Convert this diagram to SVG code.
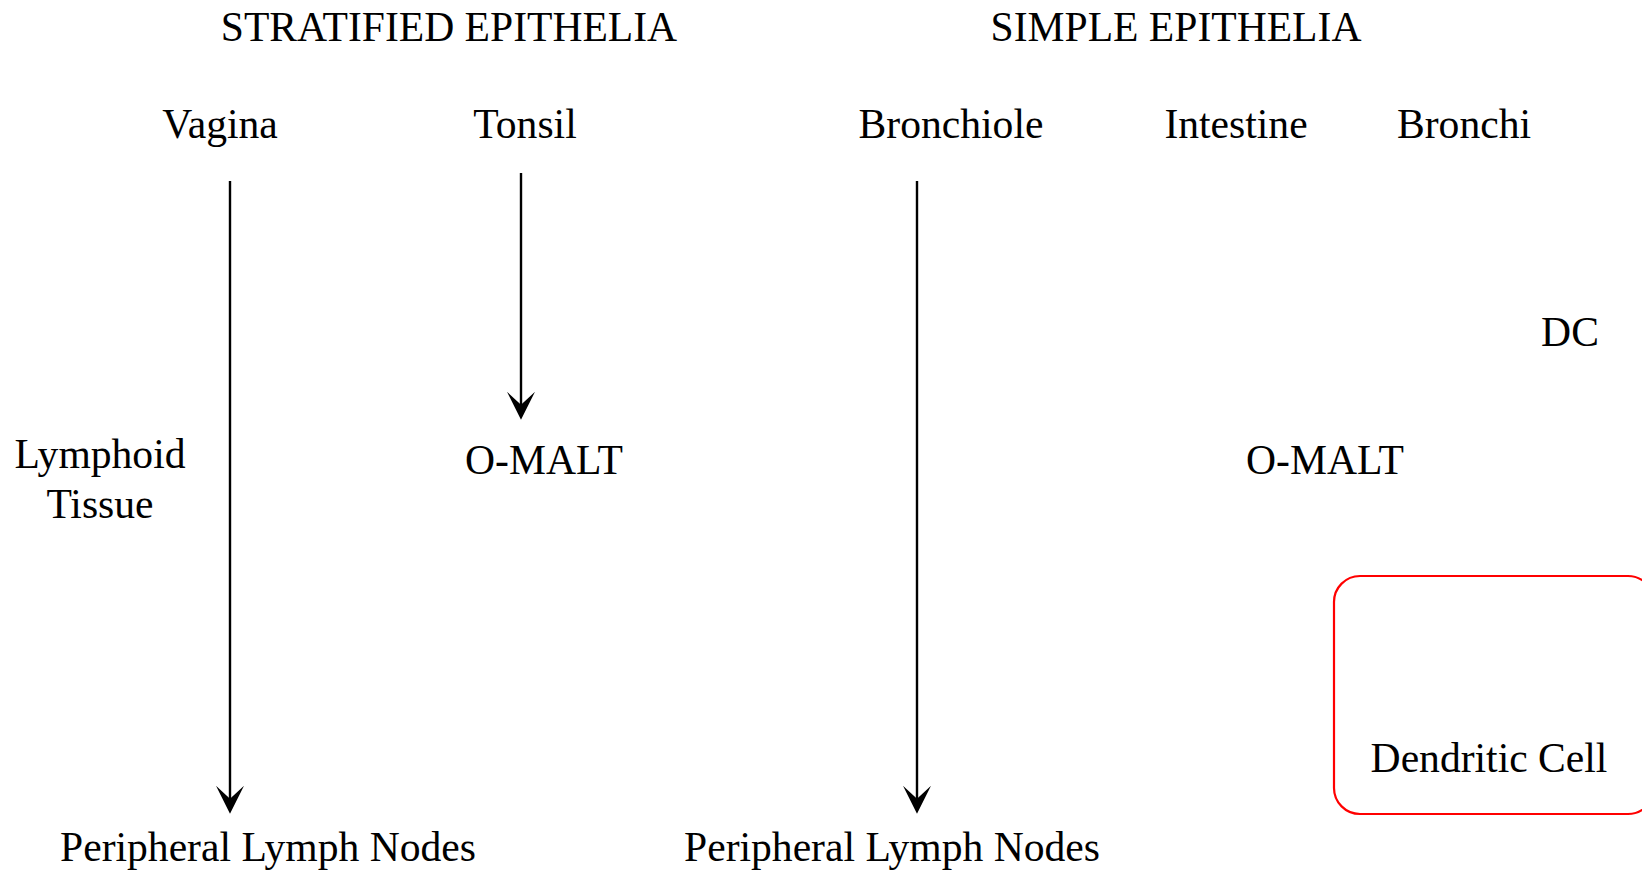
<svg xmlns="http://www.w3.org/2000/svg" width="1642" height="872" viewBox="0 0 1642 872">
<defs>
<style>
text{font-family:"Liberation Serif","Times New Roman",serif;font-size:41.6px;fill:#000;text-anchor:middle}
.conn line{stroke:#000;stroke-width:2.4;fill:none}
</style>
<marker id="ah" markerUnits="userSpaceOnUse" markerWidth="28" markerHeight="28" viewBox="0 0 26 26" refX="16" refY="13" orient="auto">
<path d="M0,0 L26,13 L0,26 L12,13 Z" fill="#000"/>
</marker>
</defs>
<rect width="1642" height="872" fill="#fff"/>
<g id="stratified"><text x="449" y="41">STRATIFIED EPITHELIA</text></g>
<g id="simple"><text x="1176" y="41">SIMPLE EPITHELIA</text></g>
<g id="vagina"><text x="220" y="138">Vagina</text></g>
<g id="tonsil"><text x="525" y="138">Tonsil</text></g>
<g id="bronchiole"><text x="951" y="138">Bronchiole</text></g>
<g id="intestine"><text x="1236" y="138">Intestine</text></g>
<g id="bronchi"><text x="1464" y="138">Bronchi</text></g>
<g id="dc"><text x="1570" y="346">DC</text></g>
<g id="lymphoid"><text x="100" y="468">Lymphoid</text><text x="100" y="518">Tissue</text></g>
<g id="omalt1"><text x="544" y="474">O-MALT</text></g>
<g id="omalt2"><text x="1325" y="474">O-MALT</text></g>
<g id="pln1"><text x="268" y="861">Peripheral Lymph Nodes</text></g>
<g id="pln2"><text x="892" y="861">Peripheral Lymph Nodes</text></g>
<g id="dendritic">
<rect x="1334" y="576" width="320" height="238" rx="26" ry="26" fill="none" stroke="#f00" stroke-width="2.2"/>
<text x="1489" y="772">Dendritic Cell</text>
</g>
<g class="conn" id="connectors">
<line x1="230" y1="181" x2="230" y2="803" marker-end="url(#ah)"/>
<line x1="521" y1="173" x2="521" y2="409" marker-end="url(#ah)"/>
<line x1="917" y1="181" x2="917" y2="803" marker-end="url(#ah)"/>
</g>
</svg>
